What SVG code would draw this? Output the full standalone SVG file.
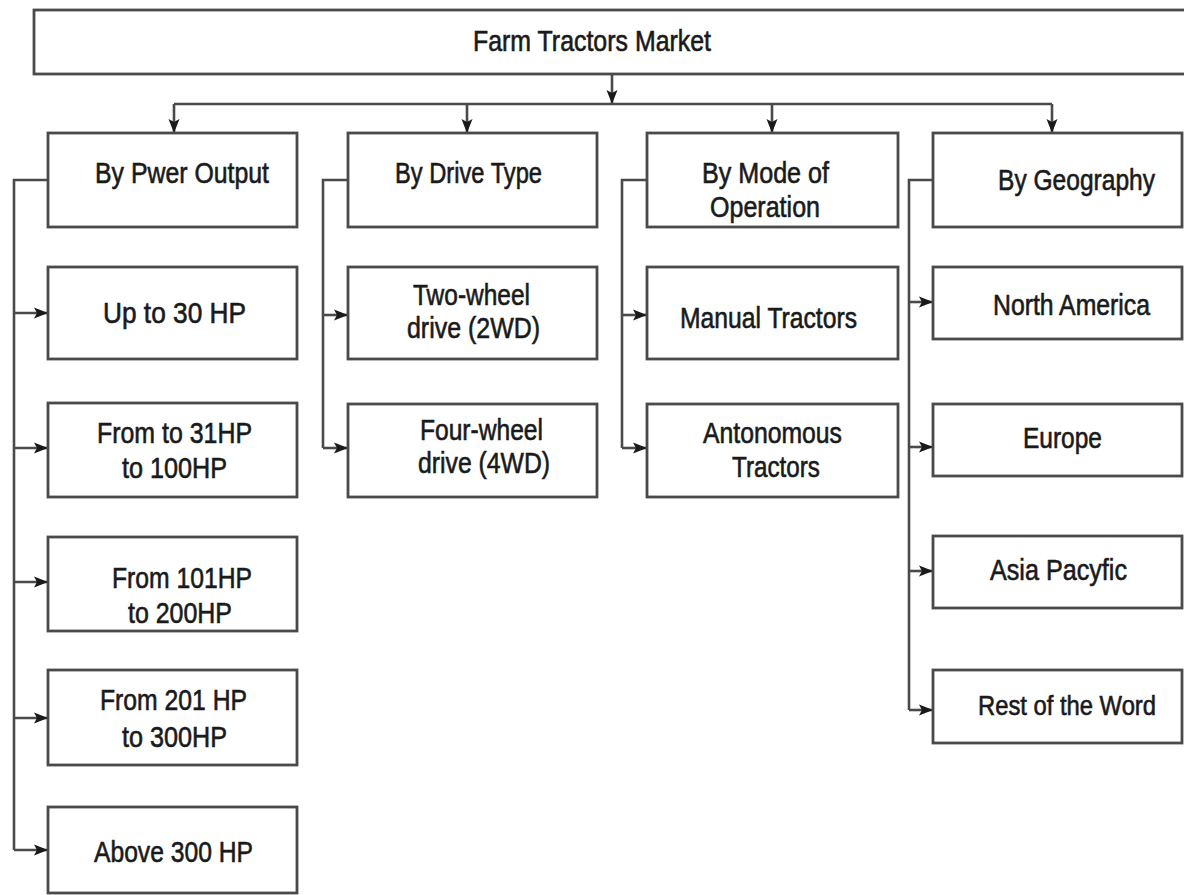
<svg xmlns="http://www.w3.org/2000/svg" width="1184" height="895" viewBox="0 0 1184 895">
<style>
.box{fill:#ffffff;stroke:#4a4a4a;stroke-width:2.8}
.ln{fill:none;stroke:#4a4a4a;stroke-width:2.6}
.arr{marker-end:url(#ah)}
text{font-family:"Liberation Sans",Arial,sans-serif;font-size:29px;fill:#1a1a1a;stroke:#1a1a1a;stroke-width:0.6}
</style>
<defs>
<marker id="ah" markerUnits="userSpaceOnUse" markerWidth="14" markerHeight="12" refX="13" refY="6" orient="auto">
<path d="M0,0.5 L14,6 L0,11.5 L3,6 Z" fill="#1a1a1a"/>
</marker>
</defs>
<rect width="1184" height="895" fill="#ffffff"/>

<g id="connectors">
<path class="ln arr" d="M612,75 V103"/>
<path class="ln" d="M174,104 H1052"/>
<path class="ln arr" d="M174,104 V132"/>
<path class="ln arr" d="M467,104 V132"/>
<path class="ln arr" d="M772,104 V132"/>
<path class="ln arr" d="M1052,104 V132"/>

<path class="ln" d="M48,180 H14 V850"/>
<path class="ln arr" d="M14,313 H47"/>
<path class="ln arr" d="M14,448 H47"/>
<path class="ln arr" d="M14,582 H47"/>
<path class="ln arr" d="M14,718 H47"/>
<path class="ln arr" d="M14,850 H47"/>

<path class="ln" d="M348,180 H323 V448"/>
<path class="ln arr" d="M323,315 H347"/>
<path class="ln arr" d="M323,448 H347"/>

<path class="ln" d="M647,180 H622 V448"/>
<path class="ln arr" d="M622,315 H646"/>
<path class="ln arr" d="M622,448 H646"/>

<path class="ln" d="M933,180 H909 V710"/>
<path class="ln arr" d="M909,302 H932"/>
<path class="ln arr" d="M909,447 H932"/>
<path class="ln arr" d="M909,571 H932"/>
<path class="ln arr" d="M909,710 H932"/>
</g>

<g id="root">
<rect class="box" x="34" y="10" width="1170" height="64"/>
<text x="473" y="51" textLength="238" lengthAdjust="spacingAndGlyphs">Farm Tractors Market</text>
</g>

<g id="power">
<rect class="box" x="48" y="133" width="249" height="94"/>
<text x="95" y="183" textLength="174" lengthAdjust="spacingAndGlyphs">By Pwer Output</text>
</g>
<g id="p1">
<rect class="box" x="48" y="267" width="249" height="92"/>
<text x="103" y="323" textLength="143" lengthAdjust="spacingAndGlyphs">Up  to 30 HP</text>
</g>
<g id="p2">
<rect class="box" x="48" y="403" width="249" height="94"/>
<text x="97" y="443" textLength="155" lengthAdjust="spacingAndGlyphs">From to 31HP</text>
<text x="122" y="478" textLength="105" lengthAdjust="spacingAndGlyphs">to 100HP</text>
</g>
<g id="p3">
<rect class="box" x="48" y="537" width="249" height="94"/>
<text x="112" y="588" textLength="140" lengthAdjust="spacingAndGlyphs">From 101HP</text>
<text x="128" y="623" textLength="104" lengthAdjust="spacingAndGlyphs">to 200HP</text>
</g>
<g id="p4">
<rect class="box" x="48" y="670" width="249" height="95"/>
<text x="100" y="710" textLength="147" lengthAdjust="spacingAndGlyphs">From 201 HP</text>
<text x="122" y="747" textLength="105" lengthAdjust="spacingAndGlyphs">to 300HP</text>
</g>
<g id="p5">
<rect class="box" x="48" y="807" width="249" height="86"/>
<text x="94" y="862" textLength="159" lengthAdjust="spacingAndGlyphs">Above 300 HP</text>
</g>

<g id="drive">
<rect class="box" x="348" y="133" width="249" height="94"/>
<text x="395" y="183" textLength="147" lengthAdjust="spacingAndGlyphs">By Drive Type</text>
</g>
<g id="d1">
<rect class="box" x="348" y="267" width="249" height="92"/>
<text x="413" y="305" textLength="117" lengthAdjust="spacingAndGlyphs">Two-wheel</text>
<text x="407" y="338" textLength="133" lengthAdjust="spacingAndGlyphs">drive (2WD)</text>
</g>
<g id="d2">
<rect class="box" x="348" y="404" width="249" height="93"/>
<text x="420" y="440" textLength="123" lengthAdjust="spacingAndGlyphs">Four-wheel</text>
<text x="418" y="473" textLength="132" lengthAdjust="spacingAndGlyphs">drive (4WD)</text>
</g>

<g id="mode">
<rect class="box" x="647" y="133" width="251" height="94"/>
<text x="702" y="183" textLength="127" lengthAdjust="spacingAndGlyphs">By Mode of</text>
<text x="710" y="217" textLength="110" lengthAdjust="spacingAndGlyphs">Operation</text>
</g>
<g id="m1">
<rect class="box" x="647" y="267" width="251" height="92"/>
<text x="680" y="328" textLength="177" lengthAdjust="spacingAndGlyphs">Manual Tractors</text>
</g>
<g id="m2">
<rect class="box" x="647" y="404" width="251" height="93"/>
<text x="703" y="443" textLength="139" lengthAdjust="spacingAndGlyphs">Antonomous</text>
<text x="732" y="477" textLength="88" lengthAdjust="spacingAndGlyphs">Tractors</text>
</g>

<g id="geo">
<rect class="box" x="933" y="133" width="249" height="94"/>
<text x="998" y="190" textLength="157" lengthAdjust="spacingAndGlyphs">By Geography</text>
</g>
<g id="g1">
<rect class="box" x="933" y="267" width="249" height="72"/>
<text x="993" y="315" textLength="157" lengthAdjust="spacingAndGlyphs">North America</text>
</g>
<g id="g2">
<rect class="box" x="933" y="404" width="249" height="72"/>
<text x="1023" y="448" textLength="79" lengthAdjust="spacingAndGlyphs">Europe</text>
</g>
<g id="g3">
<rect class="box" x="933" y="536" width="249" height="72"/>
<text x="990" y="580" textLength="137" lengthAdjust="spacingAndGlyphs">Asia Pacyfic</text>
</g>
<g id="g4">
<rect class="box" x="933" y="670" width="249" height="73"/>
<text x="978" y="715" style="font-size:27px" textLength="178" lengthAdjust="spacingAndGlyphs">Rest of the Word</text>
</g>
</svg>
